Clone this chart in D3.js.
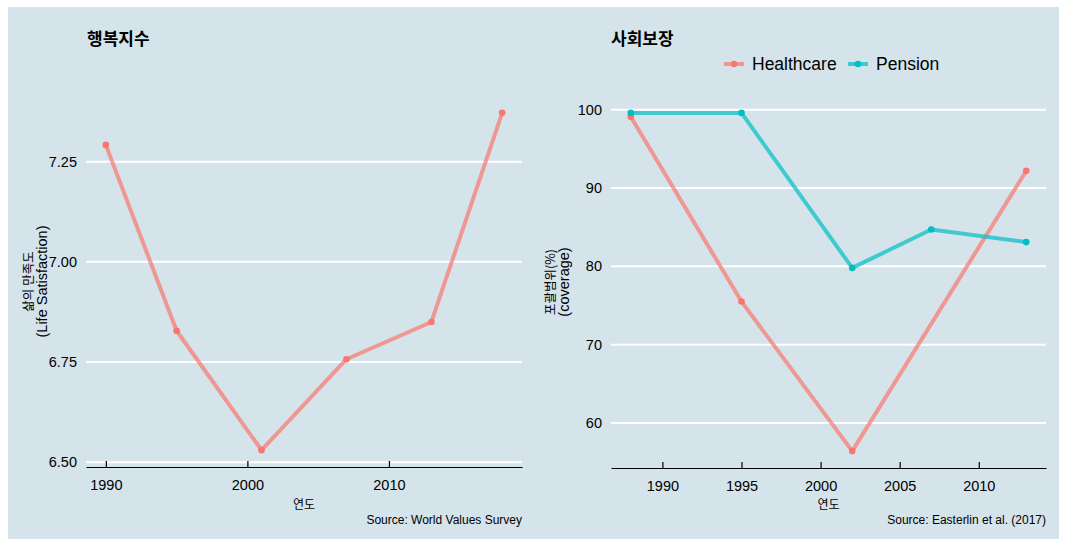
<!DOCTYPE html>
<html><head><meta charset="utf-8">
<script src="https://cdn.jsdelivr.net/npm/d3@7"></script>
<style>
body{margin:0;background:#fff;}
svg{display:block;}
text{font-family:"Liberation Sans",Arial,"Noto Sans CJK KR",sans-serif;fill:#000;}
.kr{font-family:"Noto Sans CJK KR","Liberation Sans",sans-serif;}
</style></head><body>
<script>
// Left panel: life satisfaction
const lsYears = [1990, 1995, 2001, 2007, 2013, 2018];
const lsValues = [7.292, 6.828, 6.530, 6.757, 6.850, 7.372];
const lsYTicks = [6.50, 6.75, 7.00, 7.25];
const lsXTicks = [1990, 2000, 2010];

// Right panel: coverage
const hcYears = [1988, 1995, 2002, 2013];
const hcValues = [99.1, 75.5, 56.4, 92.2];
const penYears = [1988, 1995, 2002, 2007, 2013];
const penValues = [99.6, 99.6, 79.8, 84.7, 83.1];
const covYTicks = [60, 70, 80, 90, 100];
const covXTicks = [1990, 1995, 2000, 2005, 2010];
const seriesNames = ["Healthcare", "Pension"];
const seriesColors = ["#F8766D", "#00BFC4"];

const W = 1067, H = 548;
const svg = d3.select("body").append("svg").attr("width", W).attr("height", H);
svg.append("rect").attr("x", 8).attr("y", 7).attr("width", 1051).attr("height", 532).attr("fill", "#d5e4eb");

function pad(ext){ const r = ext[1]-ext[0]; return [ext[0]-0.05*r, ext[1]+0.05*r]; }

function panel(opts){
  const g = svg.append("g");
  const x = d3.scaleLinear().domain(pad(opts.xExt)).range([opts.x0, opts.x1]);
  const y = d3.scaleLinear().domain(pad(opts.yExt)).range([opts.y1, opts.y0]);
  g.selectAll(".grid").data(opts.yTicks).enter().append("line")
    .attr("x1", opts.x0).attr("x2", opts.x1)
    .attr("y1", d=>y(d)).attr("y2", d=>y(d))
    .attr("stroke", "#fff").attr("stroke-width", 2);
  g.selectAll(".yl").data(opts.yTicks).enter().append("text")
    .attr("x", opts.x0 - 9).attr("y", d=>y(d)).attr("dy", "0.35em")
    .attr("text-anchor", "end").attr("font-size", 14.5)
    .text(d=>opts.yFmt(d));
  const xa = d3.axisBottom(x).tickValues(opts.xTicks).tickFormat(d3.format("d")).tickSizeInner(-6).tickSizeOuter(0).tickPadding(13);
  const ax = g.append("g").attr("transform", `translate(0,${opts.y1})`).call(xa);
  ax.select(".domain").attr("stroke", "#000").attr("stroke-width", 1.2);
  ax.selectAll(".tick line").attr("stroke", "#000").attr("stroke-width", 1.2);
  ax.selectAll(".tick text").attr("font-size", 14.5).attr("fill", "#000")
    .style("font-family", '"Liberation Sans",Arial,sans-serif');
  g.append("text").attr("class","kr").attr("x", opts.titleX).attr("y", 45)
    .attr("font-size", 17).attr("font-weight", "bold").text(opts.title);
  g.append("text").attr("class","kr").attr("x", (opts.x0+opts.x1)/2).attr("y", 509)
    .attr("text-anchor","middle").attr("font-size", 12).text("연도");
  const yc = (opts.y0+opts.y1)/2;
  const yt = g.append("text").attr("transform", `translate(${opts.yTitleX},${yc}) rotate(-90)`)
    .attr("text-anchor","middle").attr("font-size", 14.5);
  yt.append("tspan").attr("class","kr").attr("x",0).attr("dy",0).attr("font-size",12.5).text(opts.yTitle[0]);
  yt.append("tspan").attr("x",0).attr("dy","0.95em").text(opts.yTitle[1]);
  g.append("text").attr("x", opts.x1).attr("y", 524).attr("text-anchor","end")
    .attr("font-size", 12).text(opts.source);
  opts.series.forEach(s=>{
    const pts = s.xs.map((d,i)=>[d, s.ys[i]]);
    g.append("path").datum(pts)
      .attr("d", d3.line().x(d=>x(d[0])).y(d=>y(d[1])))
      .attr("fill","none").attr("stroke", s.color).attr("stroke-opacity", 0.7)
      .attr("stroke-width", 4).attr("stroke-linejoin","round");
    g.selectAll(null).data(pts).enter().append("circle")
      .attr("cx", d=>x(d[0])).attr("cy", d=>y(d[1])).attr("r", 3.3)
      .attr("fill", s.color);
  });
  return {x,y};
}

panel({
  x0: 86, x1: 522, y0: 96, y1: 467,
  xExt: d3.extent(lsYears), yExt: d3.extent(lsValues),
  yTicks: lsYTicks, xTicks: lsXTicks, yFmt: d3.format(".2f"),
  title: "행복지수", titleX: 87, yTitleX: 33,
  yTitle: ["삶의 만족도", "(Life Satisfaction)"],
  source: "Source: World Values Survey",
  series: [{xs: lsYears, ys: lsValues, color: seriesColors[0]}]
});

panel({
  x0: 611, x1: 1046, y0: 96, y1: 468,
  xExt: d3.extent(hcYears.concat(penYears)), yExt: d3.extent(hcValues.concat(penValues)),
  yTicks: covYTicks, xTicks: covXTicks, yFmt: d3.format("d"),
  title: "사회보장", titleX: 611, yTitleX: 555,
  yTitle: ["포괄범위(%)", "(coverage)"],
  source: "Source: Easterlin et al. (2017)",
  series: [{xs: hcYears, ys: hcValues, color: seriesColors[0]},
           {xs: penYears, ys: penValues, color: seriesColors[1]}]
});

const legX = [724, 848];
seriesNames.forEach((n,i)=>{
  const lg = svg.append("g").attr("transform", `translate(${legX[i]},64)`);
  lg.append("line").attr("x1",0).attr("x2",20).attr("y1",0).attr("y2",0)
    .attr("stroke", seriesColors[i]).attr("stroke-opacity",0.7).attr("stroke-width",4);
  lg.append("circle").attr("cx",10).attr("cy",0).attr("r",3.3).attr("fill",seriesColors[i]);
  lg.append("text").attr("x",28).attr("y",0).attr("dy","0.35em").attr("font-size",17.5).text(n);
});
</script>
</body></html>
